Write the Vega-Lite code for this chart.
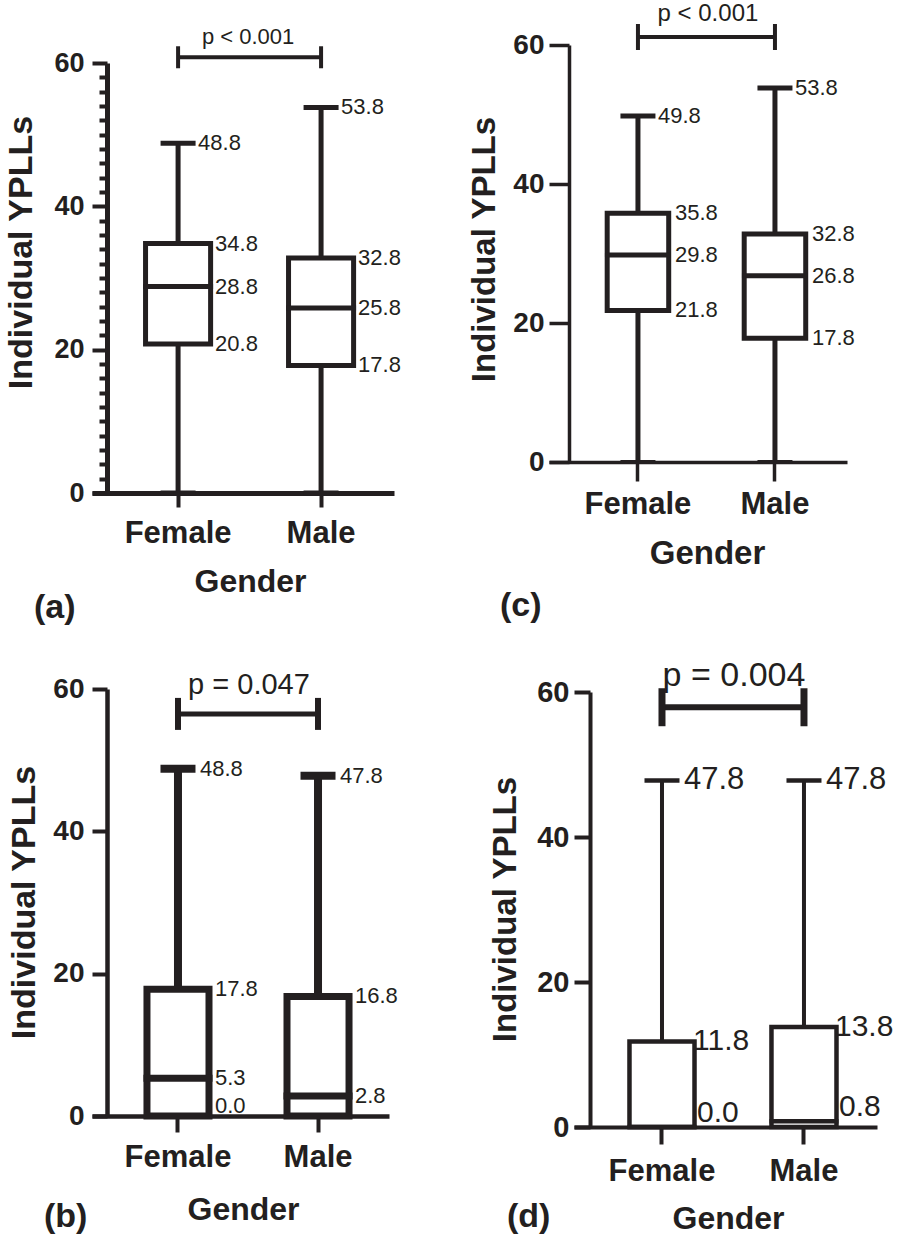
{
  "$schema": "https://vega.github.io/schema/vega-lite/v6.json",
  "background": "white",
  "padding": {"left": 4, "top": 2, "right": 0, "bottom": 5},
  "columns": 2,
  "bounds": "flush",
  "align": "each",
  "spacing": {"row": 196, "column": 155},
  "config": {
    "view": {"stroke": null},
    "font": "Liberation Sans",
    "axis": {"domainColor": "#231f20", "tickColor": "#231f20", "labelColor": "#231f20", "titleColor": "#231f20", "grid": false, "labelFont": "Liberation Sans", "titleFont": "Liberation Sans", "labelFontWeight": "bold", "titleFontWeight": "bold", "labelFlush": false, "labelOverlap": false},
    "title": {"font": "Liberation Sans", "fontWeight": "bold", "color": "#231f20"},
    "text": {"font": "Liberation Sans", "color": "#231f20"}
  },
  "datasets": {
    "boxes": [
      {"panel": "a", "gender": "Female", "min": 0, "q1": 20.8, "median": 28.8, "q3": 34.8, "max": 48.8},
      {"panel": "a", "gender": "Male", "min": 0, "q1": 17.8, "median": 25.8, "q3": 32.8, "max": 53.8},
      {"panel": "c", "gender": "Female", "min": 0, "q1": 21.8, "median": 29.8, "q3": 35.8, "max": 49.8},
      {"panel": "c", "gender": "Male", "min": 0, "q1": 17.8, "median": 26.8, "q3": 32.8, "max": 53.8},
      {"panel": "b", "gender": "Female", "min": 0, "q1": 0, "median": 5.3, "q3": 17.8, "max": 48.8},
      {"panel": "b", "gender": "Male", "min": 0, "q1": 0, "median": 2.8, "q3": 16.8, "max": 47.8},
      {"panel": "d", "gender": "Female", "min": 0, "q1": 0, "median": 0, "q3": 11.8, "max": 47.8},
      {"panel": "d", "gender": "Male", "min": 0, "q1": 0, "median": 0.8, "q3": 13.8, "max": 47.8}
    ],
    "labels": [
      {"panel": "a", "gender": "Female", "kind": "max", "value": 48.8},
      {"panel": "a", "gender": "Female", "kind": "box", "value": 34.8},
      {"panel": "a", "gender": "Female", "kind": "box", "value": 28.8},
      {"panel": "a", "gender": "Female", "kind": "box", "value": 20.8},
      {"panel": "a", "gender": "Male", "kind": "max", "value": 53.8},
      {"panel": "a", "gender": "Male", "kind": "box", "value": 32.8},
      {"panel": "a", "gender": "Male", "kind": "box", "value": 25.8},
      {"panel": "a", "gender": "Male", "kind": "box", "value": 17.8},
      {"panel": "c", "gender": "Female", "kind": "max", "value": 49.8},
      {"panel": "c", "gender": "Female", "kind": "box", "value": 35.8},
      {"panel": "c", "gender": "Female", "kind": "box", "value": 29.8},
      {"panel": "c", "gender": "Female", "kind": "box", "value": 21.8},
      {"panel": "c", "gender": "Male", "kind": "max", "value": 53.8},
      {"panel": "c", "gender": "Male", "kind": "box", "value": 32.8},
      {"panel": "c", "gender": "Male", "kind": "box", "value": 26.8},
      {"panel": "c", "gender": "Male", "kind": "box", "value": 17.8},
      {"panel": "b", "gender": "Female", "kind": "max", "value": 48.8},
      {"panel": "b", "gender": "Female", "kind": "box", "value": 17.8},
      {"panel": "b", "gender": "Female", "kind": "box", "value": 5.3},
      {"panel": "b", "gender": "Female", "kind": "box", "value": 0},
      {"panel": "b", "gender": "Male", "kind": "max", "value": 47.8},
      {"panel": "b", "gender": "Male", "kind": "box", "value": 16.8},
      {"panel": "b", "gender": "Male", "kind": "box", "value": 2.8},
      {"panel": "d", "gender": "Female", "kind": "max", "value": 47.8},
      {"panel": "d", "gender": "Female", "kind": "box", "value": 11.8},
      {"panel": "d", "gender": "Female", "kind": "box", "value": 0},
      {"panel": "d", "gender": "Male", "kind": "max", "value": 47.8},
      {"panel": "d", "gender": "Male", "kind": "box", "value": 13.8},
      {"panel": "d", "gender": "Male", "kind": "box", "value": 0.8}
    ],
    "brackets": [
      {"panel": "a", "from": "Female", "to": "Male", "y": 60.8, "label": "p < 0.001"},
      {"panel": "c", "from": "Female", "to": "Male", "y": 61.15, "label": "p < 0.001"},
      {"panel": "b", "from": "Female", "to": "Male", "y": 56.5, "label": "p = 0.047"},
      {"panel": "d", "from": "Female", "to": "Male", "y": 57.9, "label": "p = 0.004"}
    ]
  },
  "concat": [
    {
      "width": 302, "height": 448,
      "title": {"text": "(a)", "orient": "bottom", "anchor": "start", "frame": "group", "dx": -58, "offset": 21, "baseline": "alphabetic", "fontSize": 34},
      "layer": [
        {
          "data": {"name": "boxes"}, "transform": [{"filter": "datum.panel === 'a'"}],
          "mark": {"type": "rule", "strokeWidth": 5, "color": "#231f20"},
          "encoding": {
            "x": {"field": "gender", "type": "nominal", "scale": {"type": "band", "domain": ["Female", "Male"], "paddingInner": 0.545, "paddingOuter": 0.3285, "align": 0.57},
              "axis": {"title": "Gender", "labelAngle": 0, "labelFontSize": 31, "labelFontWeight": "bold", "labelBaseline": "alphabetic", "tickSize": 14, "tickWidth": 4, "labelPadding": 35, "domainWidth": 5, "titleFontSize": 32, "titleX": 158, "titleY": 98, "titleBaseline": "alphabetic", "titleAlign": "center"}},
            "y": {"field": "min", "type": "quantitative", "scale": {"domain": [0, 60], "range": [448, 18], "nice": false, "zero": false},
              "axis": {"values": [0,2,4,6,8,10,12,14,16,18,20,22,24,26,28,30,32,34,36,38,40,42,44,46,48,50,52,54,56,58,60], "tickCount": 31, "labelExpr": "datum.value % 20 === 0 ? datum.label : ''", "tickSize": {"condition": {"test": "datum.value % 20 === 0", "value": 15}, "value": 8}, "tickWidth": 4, "domainWidth": 5, "labelFontSize": 27, "labelFontWeight": "bold", "labelPadding": 8, "offset": -15, "title": "Individual YPLLs", "titleFontSize": 34, "titleX": -76, "titleY": 207, "titleBaseline": "alphabetic", "titleAlign": "center", "titleAngle": -90}},
            "y2": {"field": "max"}
          }
        },
        {"data": {"name": "boxes"}, "transform": [{"filter": "datum.panel === 'a'"}],
          "mark": {"type": "tick", "size": 35, "thickness": 5, "color": "#231f20", "opacity": 1},
          "encoding": {"x": {"field": "gender", "type": "nominal"}, "y": {"field": "max", "type": "quantitative"}}},
        {"data": {"name": "boxes"}, "transform": [{"filter": "datum.panel === 'a'"}],
          "mark": {"type": "tick", "size": 35, "thickness": 5, "color": "#231f20", "opacity": 1},
          "encoding": {"x": {"field": "gender", "type": "nominal"}, "y": {"field": "min", "type": "quantitative"}}},
        {"data": {"name": "boxes"}, "transform": [{"filter": "datum.panel === 'a'"}],
          "mark": {"type": "rect", "fill": "white", "stroke": "#231f20", "strokeWidth": 5},
          "encoding": {"x": {"field": "gender", "type": "nominal"}, "y": {"field": "q1", "type": "quantitative"}, "y2": {"field": "q3"}}},
        {"data": {"name": "boxes"}, "transform": [{"filter": "datum.panel === 'a'"}],
          "mark": {"type": "tick", "size": 70, "thickness": 5, "color": "#231f20", "opacity": 1},
          "encoding": {"x": {"field": "gender", "type": "nominal"}, "y": {"field": "median", "type": "quantitative"}}},
        {"data": {"name": "labels"}, "transform": [{"filter": "datum.panel === 'a' && datum.kind === 'max'"}],
          "mark": {"type": "text", "align": "left", "baseline": "middle", "dx": 20, "fontSize": 22},
          "encoding": {"x": {"field": "gender", "type": "nominal"}, "y": {"field": "value", "type": "quantitative"}, "text": {"field": "value", "type": "quantitative", "format": ".1f"}}},
        {"data": {"name": "labels"}, "transform": [{"filter": "datum.panel === 'a' && datum.kind === 'box'"}],
          "mark": {"type": "text", "align": "left", "baseline": "middle", "dx": 37, "fontSize": 22},
          "encoding": {"x": {"field": "gender", "type": "nominal"}, "y": {"field": "value", "type": "quantitative"}, "text": {"field": "value", "type": "quantitative", "format": ".1f"}}},
        {"data": {"name": "brackets"}, "transform": [{"filter": "datum.panel === 'a'"}],
          "mark": {"type": "rule", "strokeWidth": 4, "color": "#231f20"},
          "encoding": {"x": {"field": "from", "type": "nominal"}, "x2": {"field": "to"}, "y": {"field": "y", "type": "quantitative"}}},
        {"data": {"name": "brackets"}, "transform": [{"filter": "datum.panel === 'a'"}],
          "mark": {"type": "tick", "orient": "vertical", "size": 22, "thickness": 4, "color": "#231f20", "opacity": 1},
          "encoding": {"x": {"field": "from", "type": "nominal"}, "y": {"field": "y", "type": "quantitative"}}},
        {"data": {"name": "brackets"}, "transform": [{"filter": "datum.panel === 'a'"}],
          "mark": {"type": "tick", "orient": "vertical", "size": 22, "thickness": 4, "color": "#231f20", "opacity": 1},
          "encoding": {"x": {"field": "to", "type": "nominal"}, "y": {"field": "y", "type": "quantitative"}}},
        {"data": {"name": "brackets"}, "transform": [{"filter": "datum.panel === 'a'"}],
          "mark": {"type": "text", "align": "center", "baseline": "alphabetic", "dx": 70, "dy": -13, "fontSize": 22},
          "encoding": {"x": {"field": "from", "type": "nominal"}, "y": {"field": "y", "type": "quantitative"}, "text": {"field": "label"}}}
      ]
    },
    {
      "width": 298, "height": 417,
      "title": {"text": "(c)", "orient": "bottom", "anchor": "start", "frame": "group", "dx": -49, "offset": 46, "baseline": "alphabetic", "fontSize": 34},
      "layer": [
        {
          "data": {"name": "boxes"}, "transform": [{"filter": "datum.panel === 'c'"}],
          "mark": {"type": "rule", "strokeWidth": 5, "color": "#231f20"},
          "encoding": {
            "x": {"field": "gender", "type": "nominal", "scale": {"type": "band", "domain": ["Female", "Male"], "paddingInner": 0.551, "paddingOuter": 0.363, "align": 0.585},
              "axis": {"title": "Gender", "labelAngle": 0, "labelFontSize": 31, "labelFontWeight": "bold", "labelBaseline": "alphabetic", "tickSize": 19, "tickWidth": 3.5, "labelPadding": 32, "domainWidth": 3.5, "titleFontSize": 33, "titleX": 158, "titleY": 101, "titleBaseline": "alphabetic", "titleAlign": "center"}},
            "y": {"field": "min", "type": "quantitative", "scale": {"domain": [0, 60], "nice": false, "zero": false},
              "axis": {"values": [0, 20, 40, 60], "tickSize": 20, "tickWidth": 3.5, "domainWidth": 3.5, "labelFontSize": 28, "labelFontWeight": "bold", "labelPadding": 5, "offset": -20, "title": "Individual YPLLs", "titleFontSize": 33, "titleX": -75, "titleY": 204, "titleBaseline": "alphabetic", "titleAlign": "center", "titleAngle": -90}},
            "y2": {"field": "max"}
          }
        },
        {"data": {"name": "boxes"}, "transform": [{"filter": "datum.panel === 'c'"}],
          "mark": {"type": "tick", "size": 35, "thickness": 5, "color": "#231f20", "opacity": 1},
          "encoding": {"x": {"field": "gender", "type": "nominal"}, "y": {"field": "max", "type": "quantitative"}}},
        {"data": {"name": "boxes"}, "transform": [{"filter": "datum.panel === 'c'"}],
          "mark": {"type": "tick", "size": 35, "thickness": 4, "color": "#231f20", "opacity": 1},
          "encoding": {"x": {"field": "gender", "type": "nominal"}, "y": {"field": "min", "type": "quantitative"}}},
        {"data": {"name": "boxes"}, "transform": [{"filter": "datum.panel === 'c'"}],
          "mark": {"type": "rect", "fill": "white", "stroke": "#231f20", "strokeWidth": 5},
          "encoding": {"x": {"field": "gender", "type": "nominal"}, "y": {"field": "q1", "type": "quantitative"}, "y2": {"field": "q3"}}},
        {"data": {"name": "boxes"}, "transform": [{"filter": "datum.panel === 'c'"}],
          "mark": {"type": "tick", "size": 66, "thickness": 5, "color": "#231f20", "opacity": 1},
          "encoding": {"x": {"field": "gender", "type": "nominal"}, "y": {"field": "median", "type": "quantitative"}}},
        {"data": {"name": "labels"}, "transform": [{"filter": "datum.panel === 'c' && datum.kind === 'max'"}],
          "mark": {"type": "text", "align": "left", "baseline": "middle", "dx": 20, "fontSize": 22},
          "encoding": {"x": {"field": "gender", "type": "nominal"}, "y": {"field": "value", "type": "quantitative"}, "text": {"field": "value", "type": "quantitative", "format": ".1f"}}},
        {"data": {"name": "labels"}, "transform": [{"filter": "datum.panel === 'c' && datum.kind === 'box'"}],
          "mark": {"type": "text", "align": "left", "baseline": "middle", "dx": 37, "fontSize": 22},
          "encoding": {"x": {"field": "gender", "type": "nominal"}, "y": {"field": "value", "type": "quantitative"}, "text": {"field": "value", "type": "quantitative", "format": ".1f"}}},
        {"data": {"name": "brackets"}, "transform": [{"filter": "datum.panel === 'c'"}],
          "mark": {"type": "rule", "strokeWidth": 4, "color": "#231f20"},
          "encoding": {"x": {"field": "from", "type": "nominal"}, "x2": {"field": "to"}, "y": {"field": "y", "type": "quantitative"}}},
        {"data": {"name": "brackets"}, "transform": [{"filter": "datum.panel === 'c'"}],
          "mark": {"type": "tick", "orient": "vertical", "size": 26, "thickness": 4, "color": "#231f20", "opacity": 1},
          "encoding": {"x": {"field": "from", "type": "nominal"}, "y": {"field": "y", "type": "quantitative"}}},
        {"data": {"name": "brackets"}, "transform": [{"filter": "datum.panel === 'c'"}],
          "mark": {"type": "tick", "orient": "vertical", "size": 26, "thickness": 4, "color": "#231f20", "opacity": 1},
          "encoding": {"x": {"field": "to", "type": "nominal"}, "y": {"field": "y", "type": "quantitative"}}},
        {"data": {"name": "brackets"}, "transform": [{"filter": "datum.panel === 'c'"}],
          "mark": {"type": "text", "align": "center", "baseline": "alphabetic", "dx": 70, "dy": -16, "fontSize": 24},
          "encoding": {"x": {"field": "from", "type": "nominal"}, "y": {"field": "y", "type": "quantitative"}, "text": {"field": "label"}}}
      ]
    },
    {
      "width": 297, "height": 427,
      "title": {"text": "(b)", "orient": "bottom", "anchor": "start", "frame": "group", "dx": -48, "offset": 2, "baseline": "alphabetic", "fontSize": 34},
      "layer": [
        {
          "data": {"name": "boxes"}, "transform": [{"filter": "datum.panel === 'b'"}],
          "mark": {"type": "rule", "strokeWidth": 8, "color": "#231f20"},
          "encoding": {
            "x": {"field": "gender", "type": "nominal", "scale": {"type": "band", "domain": ["Female", "Male"], "paddingInner": 0.557, "paddingOuter": 0.339, "align": 0.579},
              "axis": {"title": "Gender", "labelAngle": 0, "labelFontSize": 31, "labelFontWeight": "bold", "labelBaseline": "alphabetic", "tickSize": 16, "tickWidth": 4, "labelPadding": 34, "domainWidth": 4.5, "titleFontSize": 32, "titleX": 151, "titleY": 103, "titleBaseline": "alphabetic", "titleAlign": "center"}},
            "y": {"field": "min", "type": "quantitative", "scale": {"domain": [0, 60], "nice": false, "zero": false},
              "axis": {"values": [0, 20, 40, 60], "tickSize": 15, "tickWidth": 4, "domainWidth": 4.5, "labelFontSize": 28, "labelFontWeight": "bold", "labelPadding": 8, "offset": -15, "title": "Individual YPLLs", "titleFontSize": 34, "titleX": -73, "titleY": 213, "titleBaseline": "alphabetic", "titleAlign": "center", "titleAngle": -90}},
            "y2": {"field": "max"}
          }
        },
        {"data": {"name": "boxes"}, "transform": [{"filter": "datum.panel === 'b'"}],
          "mark": {"type": "tick", "size": 35, "thickness": 8, "color": "#231f20", "opacity": 1},
          "encoding": {"x": {"field": "gender", "type": "nominal"}, "y": {"field": "max", "type": "quantitative"}}},
        {"data": {"name": "boxes"}, "transform": [{"filter": "datum.panel === 'b'"}],
          "mark": {"type": "rect", "fill": "white", "stroke": "#231f20", "strokeWidth": 7},
          "encoding": {"x": {"field": "gender", "type": "nominal"}, "y": {"field": "q1", "type": "quantitative"}, "y2": {"field": "q3"}}},
        {"data": {"name": "boxes"}, "transform": [{"filter": "datum.panel === 'b'"}],
          "mark": {"type": "tick", "size": 69, "thickness": 7, "color": "#231f20", "opacity": 1},
          "encoding": {"x": {"field": "gender", "type": "nominal"}, "y": {"field": "median", "type": "quantitative"}}},
        {"data": {"name": "labels"}, "transform": [{"filter": "datum.panel === 'b' && datum.kind === 'max'"}],
          "mark": {"type": "text", "align": "left", "baseline": "middle", "dx": 22, "fontSize": 22},
          "encoding": {"x": {"field": "gender", "type": "nominal"}, "y": {"field": "value", "type": "quantitative"}, "text": {"field": "value", "type": "quantitative", "format": ".1f"}}},
        {"data": {"name": "labels"}, "transform": [{"filter": "datum.panel === 'b' && datum.kind === 'box' && datum.value >= 1.5"}],
          "mark": {"type": "text", "align": "left", "baseline": "middle", "dx": 37, "fontSize": 22},
          "encoding": {"x": {"field": "gender", "type": "nominal"}, "y": {"field": "value", "type": "quantitative"}, "text": {"field": "value", "type": "quantitative", "format": ".1f"}}},
        {"data": {"name": "labels"}, "transform": [{"filter": "datum.panel === 'b' && datum.kind === 'box' && datum.value < 1.5"}],
          "mark": {"type": "text", "align": "left", "baseline": "alphabetic", "dx": 37, "dy": -3, "fontSize": 22},
          "encoding": {"x": {"field": "gender", "type": "nominal"}, "y": {"field": "value", "type": "quantitative"}, "text": {"field": "value", "type": "quantitative", "format": ".1f"}}},
        {"data": {"name": "brackets"}, "transform": [{"filter": "datum.panel === 'b'"}],
          "mark": {"type": "rule", "strokeWidth": 5, "color": "#231f20"},
          "encoding": {"x": {"field": "from", "type": "nominal"}, "x2": {"field": "to"}, "y": {"field": "y", "type": "quantitative"}}},
        {"data": {"name": "brackets"}, "transform": [{"filter": "datum.panel === 'b'"}],
          "mark": {"type": "tick", "orient": "vertical", "size": 32, "thickness": 6, "color": "#231f20", "opacity": 1},
          "encoding": {"x": {"field": "from", "type": "nominal"}, "y": {"field": "y", "type": "quantitative"}}},
        {"data": {"name": "brackets"}, "transform": [{"filter": "datum.panel === 'b'"}],
          "mark": {"type": "tick", "orient": "vertical", "size": 32, "thickness": 6, "color": "#231f20", "opacity": 1},
          "encoding": {"x": {"field": "to", "type": "nominal"}, "y": {"field": "y", "type": "quantitative"}}},
        {"data": {"name": "brackets"}, "transform": [{"filter": "datum.panel === 'b'"}],
          "mark": {"type": "text", "align": "center", "baseline": "alphabetic", "dx": 71, "dy": -20, "fontSize": 29},
          "encoding": {"x": {"field": "from", "type": "nominal"}, "y": {"field": "y", "type": "quantitative"}, "text": {"field": "label"}}}
      ]
    },
    {
      "width": 328, "height": 438,
      "title": {"text": "(d)", "orient": "bottom", "anchor": "start", "frame": "group", "dx": -42, "offset": -7, "baseline": "alphabetic", "fontSize": 34},
      "layer": [
        {
          "data": {"name": "boxes"}, "transform": [{"filter": "datum.panel === 'd'"}],
          "mark": {"type": "rule", "strokeWidth": 4, "color": "#231f20"},
          "encoding": {
            "x": {"field": "gender", "type": "nominal", "scale": {"type": "band", "domain": ["Female", "Male"], "range": [25, 328], "paddingInner": 0.542, "paddingOuter": 0.338, "align": 0.578},
              "axis": {"title": "Gender", "labelAngle": 0, "labelFontSize": 31, "labelFontWeight": "bold", "labelBaseline": "alphabetic", "tickSize": 17, "tickWidth": 4, "labelPadding": 36, "domainWidth": 4, "titleFontSize": 32, "titleX": 179, "titleY": 101, "titleBaseline": "alphabetic", "titleAlign": "center"}},
            "y": {"field": "min", "type": "quantitative", "scale": {"domain": [0, 60], "range": [438, 3], "nice": false, "zero": false},
              "axis": {"values": [0, 20, 40, 60], "tickSize": 16, "tickWidth": 4, "domainWidth": 4, "labelFontSize": 29, "labelFontWeight": "bold", "labelPadding": 5, "offset": -41, "title": "Individual YPLLs", "titleFontSize": 33, "titleX": -75, "titleY": 220, "titleBaseline": "alphabetic", "titleAlign": "center", "titleAngle": -90}},
            "y2": {"field": "max"}
          }
        },
        {"data": {"name": "boxes"}, "transform": [{"filter": "datum.panel === 'd'"}],
          "mark": {"type": "tick", "size": 35, "thickness": 4.5, "color": "#231f20", "opacity": 1},
          "encoding": {"x": {"field": "gender", "type": "nominal"}, "y": {"field": "max", "type": "quantitative"}}},
        {"data": {"name": "boxes"}, "transform": [{"filter": "datum.panel === 'd'"}],
          "mark": {"type": "rect", "fill": "white", "stroke": "#231f20", "strokeWidth": 4.5},
          "encoding": {"x": {"field": "gender", "type": "nominal"}, "y": {"field": "q1", "type": "quantitative"}, "y2": {"field": "q3"}}},
        {"data": {"name": "boxes"}, "transform": [{"filter": "datum.panel === 'd'"}],
          "mark": {"type": "tick", "size": 69, "thickness": 4.5, "color": "#231f20", "opacity": 1},
          "encoding": {"x": {"field": "gender", "type": "nominal"}, "y": {"field": "median", "type": "quantitative"}}},
        {"data": {"name": "labels"}, "transform": [{"filter": "datum.panel === 'd' && datum.kind === 'max'"}],
          "mark": {"type": "text", "align": "left", "baseline": "middle", "dx": 22, "fontSize": 31},
          "encoding": {"x": {"field": "gender", "type": "nominal"}, "y": {"field": "value", "type": "quantitative"}, "text": {"field": "value", "type": "quantitative", "format": ".1f"}}},
        {"data": {"name": "labels"}, "transform": [{"filter": "datum.panel === 'd' && datum.kind === 'box' && datum.value >= 1.5"}],
          "mark": {"type": "text", "align": "left", "baseline": "middle", "dx": 31, "fontSize": 30},
          "encoding": {"x": {"field": "gender", "type": "nominal"}, "y": {"field": "value", "type": "quantitative"}, "text": {"field": "value", "type": "quantitative", "format": ".1f"}}},
        {"data": {"name": "labels"}, "transform": [{"filter": "datum.panel === 'd' && datum.kind === 'box' && datum.value < 1.5"}],
          "mark": {"type": "text", "align": "left", "baseline": "alphabetic", "dx": 35, "dy": -5, "fontSize": 30},
          "encoding": {"x": {"field": "gender", "type": "nominal"}, "y": {"field": "value", "type": "quantitative"}, "text": {"field": "value", "type": "quantitative", "format": ".1f"}}},
        {"data": {"name": "brackets"}, "transform": [{"filter": "datum.panel === 'd'"}],
          "mark": {"type": "rule", "strokeWidth": 6, "color": "#231f20"},
          "encoding": {"x": {"field": "from", "type": "nominal"}, "x2": {"field": "to"}, "y": {"field": "y", "type": "quantitative"}}},
        {"data": {"name": "brackets"}, "transform": [{"filter": "datum.panel === 'd'"}],
          "mark": {"type": "tick", "orient": "vertical", "size": 38, "thickness": 7, "color": "#231f20", "opacity": 1},
          "encoding": {"x": {"field": "from", "type": "nominal"}, "y": {"field": "y", "type": "quantitative"}}},
        {"data": {"name": "brackets"}, "transform": [{"filter": "datum.panel === 'd'"}],
          "mark": {"type": "tick", "orient": "vertical", "size": 38, "thickness": 7, "color": "#231f20", "opacity": 1},
          "encoding": {"x": {"field": "to", "type": "nominal"}, "y": {"field": "y", "type": "quantitative"}}},
        {"data": {"name": "brackets"}, "transform": [{"filter": "datum.panel === 'd'"}],
          "mark": {"type": "text", "align": "center", "baseline": "alphabetic", "dx": 72, "dy": -21, "fontSize": 34},
          "encoding": {"x": {"field": "from", "type": "nominal"}, "y": {"field": "y", "type": "quantitative"}, "text": {"field": "label"}}}
      ]
    }
  ]
}
